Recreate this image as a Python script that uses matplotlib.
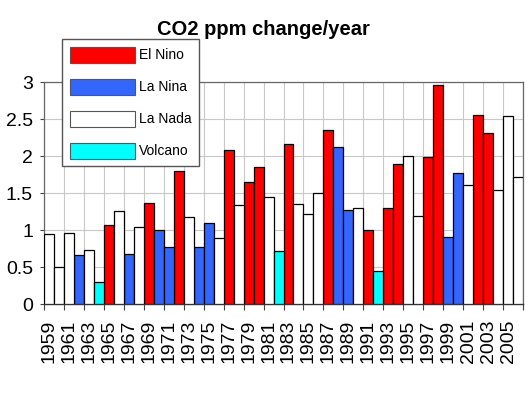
import numpy as np
import matplotlib
matplotlib.use("Agg")
import matplotlib.pyplot as plt

plt.rcParams['font.family'] = ['Liberation Sans', 'DejaVu Sans']

years = list(range(1959, 2007))
change = [0.95, 0.50, 0.96, 0.66, 0.74, 0.30, 1.07, 1.26, 0.68, 1.04,
          1.37, 1.00, 0.78, 1.80, 1.18, 0.77, 1.10, 0.90, 2.08, 1.34,
          1.65, 1.85, 1.45, 0.72, 2.16, 1.36, 1.22, 1.50, 2.36, 2.12,
          1.28, 1.30, 1.00, 0.45, 1.30, 1.90, 2.01, 1.20, 1.99, 2.96,
          0.91, 1.78, 1.61, 2.56, 2.32, 1.54, 2.54, 1.72]
# E = El Nino, L = La Nina, N = La Nada, V = Volcano
kind = list("NNNLNVENLNELLENLLNENEENVENNNELLNEVEENNEELLNEENNN")

groups = ["E", "L", "N", "V"]
names = ["El Nino", "La Nina", "La Nada", "Volcano"]
colors = ["#ff0000", "#3366ff", "#ffffff", "#00ffff"]

yr = np.array(years)
val = np.array(change)
kd = np.array(kind)

fig = plt.figure(figsize=(5.28, 3.96), dpi=100)
ax = fig.add_axes([44/528, 1 - 304.3/396, 479/528, 222/396])

handles = []
for g, nm, c in zip(groups, names, colors):
    m = kd == g
    b = ax.bar(yr[m], val[m], width=1.0, color=c, edgecolor="black",
               linewidth=0.9, label=nm, zorder=3)
    handles.append(b)

ax.set_xlim(1958.5, 2006.5)
ax.set_ylim(0, 3)
ax.set_yticks(np.arange(0, 3.01, 0.5))
ax.set_yticklabels(["0", "0.5", "1", "1.5", "2", "2.5", "3"])

odd = yr[::2]
ax.set_xticks(list(odd - 0.5) + [2006.5])
ax.set_xticklabels([])
ax.set_xticks(odd, minor=True)
ax.set_xticklabels([str(y) for y in odd], minor=True, rotation=90)
ax.tick_params(axis="x", which="major", length=4, width=0.8, color="#444444")
ax.tick_params(axis="x", which="minor", length=0, pad=11, labelsize=14)
ax.tick_params(axis="y", length=3, width=0.8, pad=5, labelsize=14, color="#444444")

ax.grid(True, which="major", color="#c8c8c8", linewidth=0.8, zorder=0)
ax.set_axisbelow(True)
for s in ["top", "right", "left"]:
    ax.spines[s].set_color("#666666")
    ax.spines[s].set_linewidth(0.9)
ax.spines["bottom"].set_color("#333333")
ax.spines["bottom"].set_linewidth(1.0)

fig.text(0.498, 1 - 35/396, "CO2 ppm change/year", ha="center", va="baseline",
         fontsize=14.5, fontweight="bold")

leg = fig.legend(handles=handles, loc="upper left",
                 bbox_to_anchor=(62/528, 1 - 39/396), fontsize=10,
                 handlelength=4.7, handleheight=1.4, labelspacing=1.15,
                 handletextpad=0.3, borderpad=0.55, borderaxespad=0,
                 fancybox=False, framealpha=1)
leg.get_frame().set_edgecolor("#555555")
leg.get_frame().set_linewidth(1.0)
for p in leg.get_patches():
    p.set_linewidth(0.8)
    p.set_edgecolor("#555555")

fig.savefig("out.png", dpi=100)
